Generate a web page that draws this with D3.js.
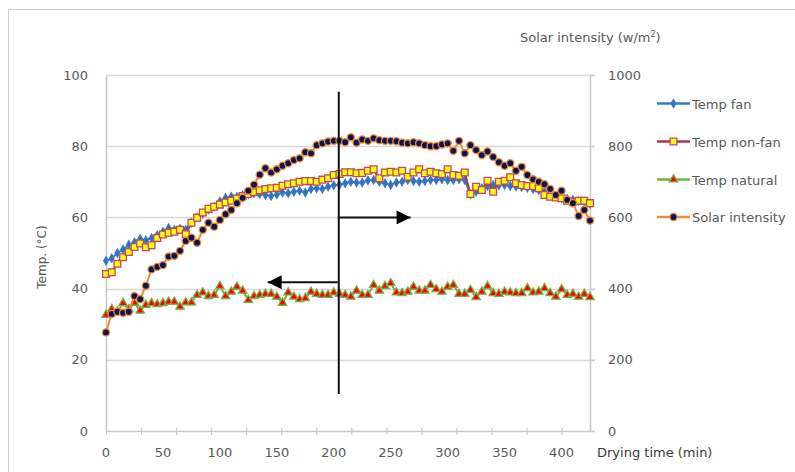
<!DOCTYPE html>
<html>
<head>
<meta charset="utf-8">
<script src="https://cdn.jsdelivr.net/npm/d3@7"></script>
<style>
  body { margin: 0; background: #fff; }
  svg { font-family: "DejaVu Sans", sans-serif; }
</style>
</head>
<body>
<div class="content"></div>
<script>
(function() {

  // Categories: drying time (min), one reading every 5 min
  var times = d3.range(0, 430, 5);

  // Series values (deg C)
  var tempFan = [47.8, 48.5, 50.0, 51.0, 52.3, 53.0, 54.0, 53.6, 54.2, 55.0,
    56.0, 57.0, 56.5, 56.8, 56.5, 58.5, 60.0, 61.0, 62.2, 63.0,
    64.5, 65.5, 65.8, 65.8, 66.2, 66.5, 66.8, 66.6, 66.3, 66.0,
    66.4, 67.0, 66.8, 67.2, 67.5, 67.0, 68.0, 68.2, 68.0, 68.6,
    69.0, 69.2, 69.6, 70.0, 69.8, 69.8, 70.4, 70.5, 70.0, 69.6,
    69.1, 69.8, 70.0, 70.5, 70.2, 70.0, 70.2, 70.5, 70.5, 70.7,
    70.5, 70.5, 70.7, 70.5, 66.5, 67.2, 68.2, 68.8, 69.1, 69.0,
    69.1, 68.8, 68.7, 68.6, 68.3, 68.0, 67.7, 67.2, 66.6, 66.0,
    65.4, 65.2, 64.9, 64.6, 64.4, 63.8];

  var tempNonFan = [44.1, 44.6, 47.0, 48.8, 50.3, 51.7, 52.7, 51.6, 52.2, 54.2,
    55.2, 55.7, 56.0, 56.5, 55.3, 58.5, 59.9, 61.4, 62.4, 63.0,
    63.6, 64.2, 64.7, 65.3, 66.0, 66.6, 67.1, 67.6, 68.0, 68.2,
    68.3, 68.9, 69.3, 69.6, 70.0, 70.2, 70.2, 70.0, 70.6, 71.0,
    71.9, 72.2, 72.7, 72.7, 72.4, 72.5, 73.1, 73.5, 71.0, 72.6,
    72.8, 72.6, 73.1, 71.4, 72.6, 73.5, 72.4, 72.8, 72.4, 72.2,
    73.5, 71.9, 71.7, 72.6, 66.6, 68.6, 67.7, 70.3, 67.2, 70.0,
    70.3, 71.3, 69.6, 69.1, 68.8, 68.8, 68.2, 66.3, 65.8, 65.6,
    65.4, 64.7, 64.4, 64.7, 64.7, 64.0];

  var tempNatural = [32.6, 34.2, 33.5, 35.9, 34.2, 36.0, 33.8, 35.4, 35.9, 35.6,
    35.9, 36.3, 36.3, 34.9, 36.1, 36.1, 38.2, 38.9, 37.9, 38.2,
    40.7, 37.9, 39.1, 40.5, 39.4, 36.8, 37.9, 38.2, 38.5, 38.5,
    37.7, 36.0, 38.9, 37.7, 37.0, 37.3, 39.1, 38.5, 38.2, 38.2,
    38.9, 38.5, 38.2, 37.7, 39.4, 38.2, 38.2, 41.0, 39.4, 40.7,
    41.5, 38.9, 38.7, 39.1, 40.5, 39.4, 39.4, 41.0, 39.8, 39.1,
    40.5, 41.0, 38.5, 38.5, 39.6, 37.6, 39.1, 40.7, 38.7, 38.5,
    39.1, 38.9, 38.7, 38.7, 40.1, 38.9, 39.1, 40.1, 38.7, 37.7,
    39.8, 38.2, 38.5, 37.7, 38.5, 37.6];

  // Solar intensity (w/m2), right axis
  var solar = [277, 329, 335, 332, 335, 379, 370, 408, 454, 461,
    466, 490, 492, 506, 534, 543, 529, 565, 585, 574,
    593, 609, 621, 640, 655, 675, 692, 720, 738, 726,
    735, 745, 752, 761, 766, 783, 780, 803, 808, 813,
    815, 815, 811, 825, 810, 819, 815, 822, 817, 815,
    815, 814, 810, 808, 811, 808, 803, 800, 800, 805,
    808, 787, 815, 780, 803, 789, 775, 785, 770, 755,
    745, 752, 731, 742, 719, 707, 700, 693, 680, 663,
    675, 649, 640, 604, 621, 591];

  // Tick labels
  var xLabels = [0, 50, 100, 150, 200, 250, 300, 350, 400];
  var xTickMarks = [0, 30.8, 61.5, 92.3, 123.1, 153.8, 184.6, 215.4, 246.2, 276.9, 307.7, 338.5, 369.2, 400];
  var yLeftTicks = [0, 20, 40, 60, 80, 100];
  var yRightTicks = [0, 200, 400, 600, 800, 1000];

  // Annotation arrows, in data units (time, temp)
  var arrowStem = { t: 204.4, from: 95.3, to: 10.4 };
  var arrowHeads = [
    { t0: 204.4, t1: 267.5, v: 60 },
    { t0: 204.4, t1: 142, v: 41.8 }
  ];

  var seriesNames = ["Temp fan", "Temp non-fan", "Temp natural", "Solar intensity"];

  // Design
  var width = 795, height = 472;
  var plot = { left: 106, right: 590, top: 75, bottom: 431 };

  var x = d3.scaleLinear().domain([0, 425]).range([plot.left, plot.right]);
  var y = d3.scaleLinear().domain([0, 100]).range([plot.bottom, plot.top]);
  var y2 = d3.scaleLinear().domain([0, 1000]).range([plot.bottom, plot.top]);

  var styles = [
    { line: "#3579c4", fill: "#2f72c0", stroke: "#3579c4", shape: d3.symbolDiamond, size: 18 },
    { line: "#b0334a", fill: "#ffff00", stroke: "#c0446e", shape: d3.symbolSquare, size: 46 },
    { line: "#76b043", fill: "#ff0000", stroke: "#76b043", shape: d3.symbolTriangle, size: 30 },
    { line: "#ed8a3c", fill: "#0a1450", stroke: "#ed8a3c", shape: d3.symbolCircle, size: 40 }
  ];

  var svg = d3.select(".content").append("svg")
      .attr("width", width)
      .attr("height", height);

  // Chart frame
  svg.append("rect")
      .attr("x", 8.5).attr("y", 9.5)
      .attr("width", 820).attr("height", 500)
      .attr("fill", "none")
      .attr("stroke", "#d0d0d0");

  // Gridlines
  svg.append("g")
      .selectAll("line")
      .data(yLeftTicks.filter(function(d) { return d > 0; }))
      .enter().append("line")
      .attr("x1", plot.left).attr("x2", plot.right + 5)
      .attr("y1", function(d) { return Math.round(y(d)) + 0.5; })
      .attr("y2", function(d) { return Math.round(y(d)) + 0.5; })
      .attr("stroke", "#d9d9d9")
      .attr("stroke-width", 1.5);

  // Axes
  var axisColor = "#c8c8c8";
  var textColor = "#595959";

  var gx = svg.append("g")
      .attr("transform", "translate(0," + plot.bottom + ")")
      .call(d3.axisBottom(x).tickValues(xTickMarks).tickSize(4).tickSizeOuter(0).tickFormat(""));
  gx.select(".domain").attr("stroke", axisColor).attr("stroke-width", 1.5);
  gx.selectAll(".tick line").attr("stroke", axisColor).attr("y1", -3).attr("stroke-width", 1.2);

  svg.append("g")
      .selectAll("text")
      .data(xLabels)
      .enter().append("text")
      .attr("x", function(d) { return x(d); })
      .attr("y", 457)
      .attr("text-anchor", "middle")
      .attr("fill", textColor)
      .style("font-size", "13px")
      .text(function(d) { return d; });

  var gyl = svg.append("g")
      .attr("transform", "translate(" + plot.left + ",0)")
      .call(d3.axisLeft(y).tickValues(yLeftTicks).tickSize(0).tickPadding(18));
  gyl.select(".domain").attr("stroke", axisColor).attr("stroke-width", 1.5);
  gyl.selectAll("text").attr("fill", textColor).style("font-size", "13px").style("font-family", "DejaVu Sans");

  var gyr = svg.append("g")
      .attr("transform", "translate(" + plot.right + ",0)")
      .call(d3.axisRight(y2).tickValues(yRightTicks).tickFormat(d3.format("d")).tickSize(5).tickPadding(13));
  gyr.select(".domain").attr("stroke", axisColor).attr("stroke-width", 1.5);
  gyr.selectAll(".tick line").attr("stroke", axisColor);
  gyr.selectAll("text").attr("fill", textColor).style("font-size", "13px").style("font-family", "DejaVu Sans");

  // Axis titles
  svg.append("text")
      .attr("transform", "translate(46,257) rotate(-90)")
      .attr("text-anchor", "middle")
      .attr("fill", textColor)
      .style("font-size", "12px")
      .text("Temp. (\u00B0C)");

  var solarTitle = svg.append("text")
      .attr("x", 520).attr("y", 42)
      .attr("fill", textColor)
      .style("font-size", "13px");
  solarTitle.append("tspan").text("Solar intensity (w/m");
  solarTitle.append("tspan").attr("dy", -5).style("font-size", "8px").text("2");
  solarTitle.append("tspan").attr("dy", 5).text(")");

  svg.append("text")
      .attr("x", 597).attr("y", 457)
      .attr("fill", "#3a3a3a")
      .style("font-size", "13px")
      .text("Drying time (min)");

  // Series
  var temps = [tempFan, tempNonFan, tempNatural];
  var seriesData = temps.map(function(vals) {
    return vals.map(function(v, i) { return { t: times[i], v: v, py: y(v) }; });
  });
  seriesData.push(solar.map(function(v, i) { return { t: times[i], v: v, py: y2(v) }; }));

  var line = d3.line()
      .x(function(d) { return x(d.t); })
      .y(function(d) { return d.py; });

  seriesData.forEach(function(data, s) {
    var st = styles[s];
    var g = svg.append("g").attr("class", "series-" + s);
    g.append("path")
        .datum(data)
        .attr("d", line)
        .attr("fill", "none")
        .attr("stroke", st.line)
        .attr("stroke-width", 2);
    g.selectAll("path.marker")
        .data(data)
        .enter().append("path")
        .attr("class", "marker")
        .attr("transform", function(d) { return "translate(" + x(d.t) + "," + d.py + ")"; })
        .attr("d", d3.symbol().type(st.shape).size(st.size))
        .attr("fill", st.fill)
        .attr("stroke", st.stroke)
        .attr("stroke-width", 1.3);
  });

  // Annotation arrows
  var defs = svg.append("defs");
  defs.append("marker")
      .attr("id", "arrowhead")
      .attr("viewBox", "0 0 10 10")
      .attr("refX", 10).attr("refY", 5)
      .attr("markerUnits", "userSpaceOnUse")
      .attr("markerWidth", 17).attr("markerHeight", 14)
      .attr("orient", "auto")
      .append("path")
      .attr("d", "M0,0L10,5L0,10Z")
      .attr("fill", "#000");

  var ann = svg.append("g").attr("class", "annotations");
  ann.append("line")
      .attr("x1", x(arrowStem.t)).attr("x2", x(arrowStem.t))
      .attr("y1", y(arrowStem.from)).attr("y2", y(arrowStem.to))
      .attr("stroke", "#111").attr("stroke-width", 2);
  ann.selectAll("line.head")
      .data(arrowHeads)
      .enter().append("line")
      .attr("class", "head")
      .attr("x1", function(d) { return x(d.t0) - 1; })
      .attr("x2", function(d) { return x(d.t1); })
      .attr("y1", function(d) { return y(d.v); })
      .attr("y2", function(d) { return y(d.v); })
      .attr("stroke", "#111").attr("stroke-width", 2)
      .attr("marker-end", "url(#arrowhead)");

  // Legend
  var legend = svg.append("g").attr("class", "legend");
  var legendRows = [103.5, 141.5, 179.5, 217];
  var legendItem = legend.selectAll("g")
      .data(seriesNames)
      .enter().append("g")
      .attr("transform", function(d, i) { return "translate(657," + legendRows[i] + ")"; });
  legendItem.append("line")
      .attr("x1", 0).attr("x2", 33)
      .attr("stroke", function(d, i) { return styles[i].line; })
      .attr("stroke-width", 2.5);
  legendItem.append("path")
      .attr("transform", "translate(16.5,0)")
      .attr("d", function(d, i) { return d3.symbol().type(styles[i].shape).size(styles[i].size)(); })
      .attr("fill", function(d, i) { return styles[i].fill; })
      .attr("stroke", function(d, i) { return styles[i].stroke; })
      .attr("stroke-width", 1.3);
  legendItem.append("text")
      .attr("x", 35).attr("y", 5)
      .attr("fill", textColor)
      .style("font-size", "13px")
      .text(function(d) { return d; });

})();
</script>
</body>
</html>
